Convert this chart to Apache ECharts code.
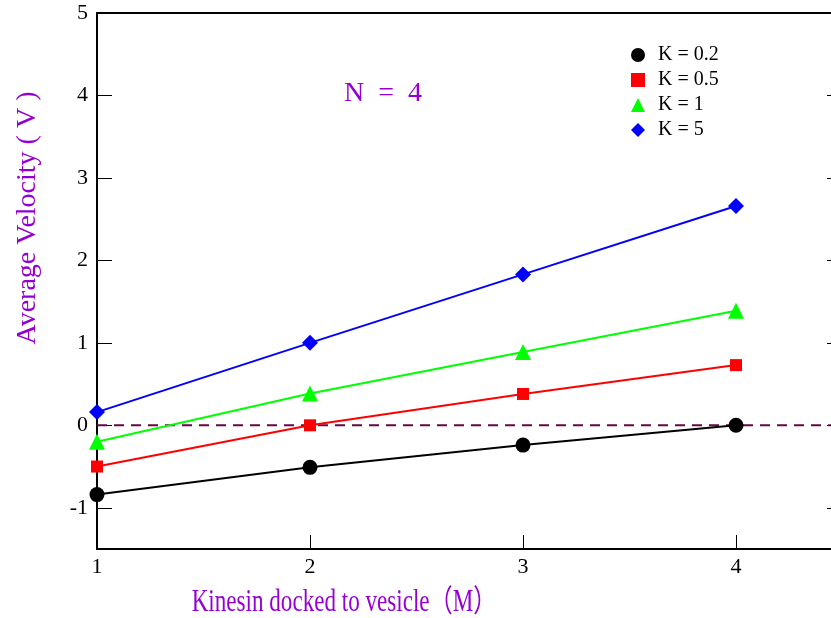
<!DOCTYPE html>
<html>
<head>
<meta charset="utf-8">
<script src="https://cdn.jsdelivr.net/npm/echarts@6/dist/echarts.min.js"></script>
<style>html,body{margin:0;padding:0;background:#fff}#c{width:831px;height:618px}</style>
</head>
<body>
<div id="c"></div>
<script>
var xValues = [1, 2, 3, 4];
var k02 = [-0.84, -0.51, -0.24, 0.0];
var k05 = [-0.50, 0.0, 0.38, 0.73];
var k1 = [-0.20, 0.385, 0.89, 1.39];
var k5 = [0.16, 1.0, 1.83, 2.66];
var seriesNames = ['K = 0.2', 'K = 0.5', 'K = 1', 'K = 5'];
var xTicks = [1, 2, 3, 4];
var yTicks = [-1, 0, 1, 2, 3, 4, 5];
var xMax = 4.446;

var serif = '"Liberation Serif", "Times New Roman", serif';
var purple = '#9400d3';
function pairs(ys) { return xValues.map(function (x, i) { return [x, ys[i]]; }); }

var chart = echarts.init(document.getElementById('c'), null, { renderer: 'canvas' });
var colors = ['#000000', '#ff0000', '#00ff00', '#0000ff'];
var symbols = ['circle', 'rect', 'triangle', 'diamond'];
var sizes = [15, 12, 16, 16];
var data = [k02, k05, k1, k5];

var series = data.map(function (d, i) {
  return {
    name: seriesNames[i], type: 'line', data: pairs(d),
    symbol: symbols[i], symbolSize: sizes[i], showSymbol: true,
    lineStyle: { color: colors[i], width: 2 },
    itemStyle: { color: colors[i] },
    z: 3 + i, animation: false
  };
});
series.unshift({
  type: 'line', data: [[1, 0], [xMax, 0]], symbol: 'none', silent: true,
  lineStyle: { color: '#670748', width: 2, type: [10, 7] }, z: 2, animation: false
});

chart.setOption({
  animation: false,
  grid: { left: 97, top: 13, right: 0, bottom: 69 },
  legend: {
    data: seriesNames.map(function (n, i) { return { name: n, icon: symbols[i] }; }),
    orient: 'vertical', left: 626, top: 40, itemWidth: 14, itemHeight: 14, itemGap: 5,
    textStyle: { fontFamily: serif, fontSize: 20, color: '#000', padding: [0, 0, 0, 8] },
    selectedMode: false
  },
  xAxis: [{
    type: 'value', min: 1, max: xMax,
    axisLine: { show: true, onZero: false, lineStyle: { color: '#000', width: 2 } },
    axisTick: { show: true, inside: true, length: 14, customValues: xTicks, lineStyle: { color: '#000', width: 1 } },
    axisLabel: { show: true, fontFamily: serif, fontSize: 22, color: '#000', margin: 7, customValues: xTicks },
    splitLine: { show: false }
  }, {
    type: 'value', position: 'top', min: 1, max: xMax,
    axisLine: { show: true, onZero: false, lineStyle: { color: '#000', width: 2 } },
    axisTick: { show: false }, axisLabel: { show: false }, splitLine: { show: false }
  }],
  yAxis: [{
    type: 'value', min: -1.5, max: 5,
    axisLine: { show: true, onZero: false, lineStyle: { color: '#000', width: 2 } },
    axisTick: { show: true, inside: true, length: 15, customValues: yTicks, lineStyle: { color: '#000', width: 1 } },
    axisLabel: { show: true, fontFamily: serif, fontSize: 22, color: '#000', margin: 9, customValues: yTicks },
    splitLine: { show: false }
  }, {
    type: 'value', position: 'right', min: -1.5, max: 5,
    axisLine: { show: false, onZero: false },
    axisTick: { show: true, inside: true, length: 4, customValues: yTicks, lineStyle: { color: '#000', width: 1 } },
    axisLabel: { show: false }, splitLine: { show: false }
  }],
  series: series,
  graphic: [
    { type: 'text', x: 344, y: 603, scaleX: 0.745, style: { text: 'Kinesin docked to vesicle（M）', fontFamily: serif + ', "Noto Sans CJK SC"', fontSize: 31, fill: purple, align: 'center', verticalAlign: 'middle' } },
    { type: 'text', x: 28, y: 218, rotation: Math.PI / 2, style: { text: 'Average Velocity ( V )', fontFamily: serif, fontSize: 28, fill: purple, align: 'center', verticalAlign: 'middle' } },
    { type: 'text', x: 383, y: 94, style: { text: 'N  =  4', fontFamily: serif, fontSize: 28, fill: purple, align: 'center', verticalAlign: 'middle' } }
  ]
});
</script>
</body>
</html>
